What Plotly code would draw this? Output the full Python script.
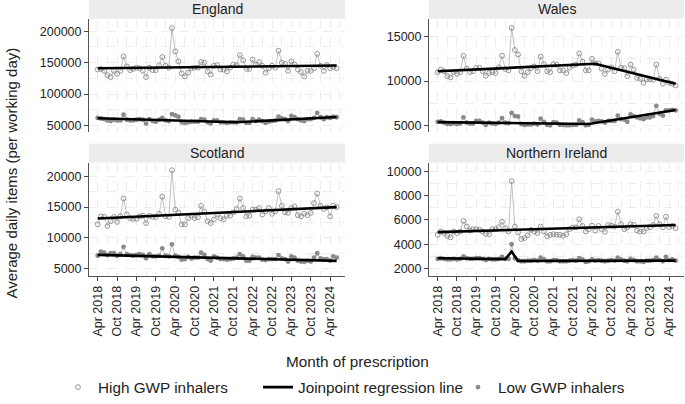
import pandas as pd
import plotly.graph_objects as go

months = pd.date_range("2018-04-01", "2024-06-01", freq="MS")

eng_high = [139000,140000,137000,130000,127000,137000,132000,137000,160000,144000,138000,140000,
            142000,141000,137000,127000,142000,138000,138000,146000,159000,145000,142000,205000,
            168000,152000,133000,128000,134000,141000,142000,142000,151000,150000,136000,131000,
            145000,146000,139000,139000,136000,142000,147000,146000,162000,154000,140000,140000,
            155000,147000,151000,145000,134000,141000,145000,142000,169000,150000,148000,137000,
            152000,147000,139000,135000,128000,137000,137000,141000,164000,145000,137000,146000,
            141000,143000,141000]
eng_low = [62000,61000,60000,58000,57000,59000,58000,58000,67000,59000,58000,58000,
           59000,60000,59000,53000,60000,57000,56000,59000,62000,58000,57000,68000,
           66000,64000,55000,54000,55000,56000,56000,56000,60000,59000,55000,53000,
           58000,58000,55000,55000,54000,55000,55000,55000,60000,59000,54000,54000,
           60000,57000,59000,57000,54000,56000,57000,58000,64000,61000,60000,57000,
           65000,63000,60000,58000,57000,60000,60000,62000,70000,63000,60000,63000,
           62000,64000,63000]
wal_high = [11000,11300,11100,10550,10400,11000,10800,11000,12850,11400,11000,11100,
            11500,11500,11100,10600,10900,11000,10900,11550,12850,11350,11200,16000,
            13500,13000,11100,10600,11000,11450,11650,11100,12750,11900,11100,11000,
            11900,11850,11200,11200,10900,11500,11750,11850,13100,12200,11200,11200,
            12500,12000,12000,11400,10800,11300,11550,11100,13300,11500,11450,10550,
            11850,11300,10350,10250,9800,10200,10200,10150,11850,10250,9700,10150,
            9800,9700,9500]
wal_low = [5400,5450,5300,5150,5150,5250,5150,5200,5900,5300,5200,5200,
           5500,5500,5300,5050,5300,5200,5150,5300,5800,5300,5250,6400,
           6050,6000,5150,5050,5100,5100,5200,5100,5750,5400,5050,5000,
           5350,5300,5050,5050,5000,5000,5050,5050,5550,5350,5000,5050,
           5650,5450,5500,5450,5300,5500,5500,5500,6100,5700,5650,5400,
           6250,6050,5900,5800,5700,5900,5900,6050,7200,6300,6100,6700,
           6700,6750,6700]
sco_high = [12200,13500,13400,11900,12700,13400,12600,13500,16400,13800,13200,13100,
            13100,13500,13600,12400,13600,13400,13400,13900,16700,13500,13400,21000,
            14600,14100,12200,12200,13200,13600,13200,13350,15200,14300,12700,12400,
            13000,13800,13200,13000,13600,13600,14150,14700,16400,14850,13500,13600,
            14600,14600,14850,13800,14300,14850,13900,14300,17600,15200,14150,14050,
            14850,15100,13700,13500,13950,13700,14050,15650,17200,15200,14700,14950,
            13500,15250,15000]
sco_low = [7100,7750,7600,7200,7500,7500,7100,7350,8550,7350,7200,7100,
           7250,7350,7250,6700,7350,7000,7000,7100,8300,7100,7000,8950,
           7100,6900,6450,6550,6900,6650,6800,6800,7600,7250,6550,6300,
           7000,6800,6550,6550,6450,6550,6650,6800,7350,7000,6300,6300,
           6900,6800,6800,6450,6400,6550,6550,6550,7200,6650,6550,6150,
           7000,6800,6300,6150,6100,6300,6150,6800,7500,6650,6550,6550,
           6300,7000,6800]
ni_high = [4780,5050,4920,4700,4560,5050,4920,5050,5920,5460,5130,5240,
           5240,5190,5050,4860,4830,5240,5240,5400,5860,5320,5050,9200,
           5460,4970,4430,4510,4730,5190,5050,4920,5460,5050,4650,4780,
           4830,4780,4780,4700,4830,5240,5380,5400,6050,5510,5050,5240,
           5540,5130,5510,5240,5020,5590,5540,5460,6680,5650,5240,5380,
           5650,5590,5130,5050,5050,5320,5400,5590,6330,5650,5400,6270,
           5400,5510,5320]
ni_low = [2800,2850,2800,2750,2750,2800,2750,2800,3000,2850,2800,2800,
          2850,2850,2800,2700,2800,2750,2750,2800,2950,2800,2800,4000,
          2850,2700,2600,2600,2650,2650,2700,2650,2900,2750,2600,2600,
          2700,2700,2600,2600,2600,2650,2700,2650,2850,2750,2550,2600,
          2750,2650,2700,2650,2600,2650,2700,2650,2900,2750,2650,2600,
          2800,2700,2600,2600,2550,2650,2650,2700,2900,2700,2600,2950,
          2700,2750,2650]

# joinpoint regression segments: (month index, fitted value)
eng_high_jp = ([0, 74], [141000, 145500])
eng_low_jp = ([0, 43, 74], [61500, 55000, 63500])
wal_high_jp = ([0, 49, 74], [11100, 11950, 9700])
wal_low_jp = ([0, 47, 74], [5370, 5150, 6740])
sco_high_jp = ([0, 74], [13150, 15000])
sco_low_jp = ([0, 74], [7230, 6270])
ni_high_jp = ([0, 74], [5000, 5590])
ni_low_jp = ([0, 21, 23, 25, 74], [2850, 2780, 3400, 2620, 2650])

panels = [
    ("England", eng_high, eng_low, eng_high_jp, eng_low_jp, [39500, 220000], 50000),
    ("Wales", wal_high, wal_low, wal_high_jp, wal_low_jp, [4250, 17030], 5000),
    ("Scotland", sco_high, sco_low, sco_high_jp, sco_low_jp, [3830, 22240], 5000),
    ("Northern Ireland", ni_high, ni_low, ni_high_jp, ni_low_jp, [1400, 10730], 2000),
]

W, H = 685, 404
xdoms = [[89 / W, 345 / W], [429 / W, 684 / W]]
ydoms = [[1 - 134 / H, 1 - 19 / H], [1 - 280 / H, 1 - 165 / H]]
strip_h = 19 / H

FONT = "Arial, Liberation Sans, sans-serif"
GRID = "#ededed"
GREY = "#8a8a8a"

fig = go.Figure()
layout = {}
for i, (name, hi, lo, hjp, ljp, yr, dt) in enumerate(panels):
    r, c = divmod(i, 2)
    n = i + 1
    xa = "x" if n == 1 else f"x{n}"
    ya = "y" if n == 1 else f"y{n}"
    fig.add_trace(go.Scatter(x=months, y=hi, mode="lines+markers", xaxis=xa, yaxis=ya,
                             line=dict(color="#a8a8a8", width=0.7),
                             marker=dict(symbol="circle-open", size=4.8, color=GREY,
                                         line=dict(width=0.9, color=GREY)),
                             showlegend=False, hoverinfo="skip"))
    fig.add_trace(go.Scatter(x=months, y=lo, mode="lines+markers", xaxis=xa, yaxis=ya,
                             line=dict(color="#a8a8a8", width=0.7),
                             marker=dict(symbol="circle", size=4.8, color=GREY),
                             showlegend=False, hoverinfo="skip"))
    for jp in (hjp, ljp):
        fig.add_trace(go.Scatter(x=[months[k] for k in jp[0]], y=jp[1], mode="lines",
                                 xaxis=xa, yaxis=ya, line=dict(color="black", width=2.6),
                                 showlegend=False, hoverinfo="skip"))
    bottom = r == 1
    key = "" if n == 1 else str(n)
    layout["xaxis" + key] = dict(
        domain=xdoms[c], anchor=ya, type="date",
        range=["2018-01-09", "2024-08-19"],
        tick0="2018-04-01", dtick="M6", tickformat="%b %Y", tickangle=-90,
        showticklabels=bottom, ticks="outside" if bottom else "", ticklen=4,
        tickcolor="#444", tickfont=dict(size=12.5, color="#222", family=FONT),
        showline=bottom, linecolor="#555", linewidth=1,
        showgrid=True, gridcolor=GRID, griddash="dash", gridwidth=1,
        minor=dict(dtick="M3", showgrid=True, gridcolor=GRID, griddash="dash", gridwidth=1),
        zeroline=False, fixedrange=True,
    )
    layout["yaxis" + key] = dict(
        domain=ydoms[r], anchor=xa, range=yr, dtick=dt, tick0=0, tickformat="d",
        ticks="outside", ticklen=4, tickcolor="#444",
        tickfont=dict(size=12.5, color="#222", family=FONT),
        showline=True, linecolor="#555", linewidth=1,
        showgrid=True, gridcolor=GRID, griddash="dash", gridwidth=1,
        minor=dict(dtick=dt / 2, showgrid=True, gridcolor=GRID, griddash="dash", gridwidth=1),
        zeroline=False, fixedrange=True,
    )

shapes = []
annotations = []
for i, (name, *_rest) in enumerate(panels):
    r, c = divmod(i, 2)
    y0 = ydoms[r][1]
    shapes.append(dict(type="rect", xref="paper", yref="paper", x0=xdoms[c][0], x1=xdoms[c][1],
                       y0=y0, y1=y0 + strip_h, fillcolor="#ececec", line=dict(width=0), layer="below"))
    annotations.append(dict(text=name, xref="paper", yref="paper", x=(xdoms[c][0] + xdoms[c][1]) / 2,
                            y=y0 + strip_h / 2, showarrow=False, xanchor="center", yanchor="middle",
                            font=dict(size=14, color="#222", family=FONT)))

annotations.append(dict(text="Month of prescription", xref="paper", yref="paper", x=357 / W,
                        y=1 - 367 / H, showarrow=False, xanchor="center", yanchor="middle",
                        font=dict(size=15.3, color="#222", family=FONT)))
annotations.append(dict(text="Average daily items (per working day)", xref="paper", yref="paper",
                        x=11 / W, y=1 - 176 / H, showarrow=False, textangle=-90,
                        xanchor="center", yanchor="middle",
                        font=dict(size=15, color="#222", family=FONT)))

# legend entries
fig.add_trace(go.Scatter(x=[None], y=[None], mode="markers", name="High GWP inhalers",
                         marker=dict(symbol="circle-open", size=4.8, color=GREY, line=dict(width=0.9, color=GREY))))
fig.add_trace(go.Scatter(x=[None], y=[None], mode="lines", name="Joinpoint regression line",
                         line=dict(color="black", width=2.6)))
fig.add_trace(go.Scatter(x=[None], y=[None], mode="markers", name="Low GWP inhalers",
                         marker=dict(symbol="circle", size=4.8, color=GREY)))

fig.update_layout(
    width=W, height=H, margin=dict(l=0, r=0, t=0, b=0),
    paper_bgcolor="white", plot_bgcolor="white",
    font=dict(family=FONT, color="#222"),
    shapes=shapes, annotations=annotations,
    legend=dict(orientation="h", x=58 / W, xanchor="left", y=1 - 393 / H, yanchor="middle",
                font=dict(size=15.3, color="#222", family=FONT), itemwidth=30,
                entrywidth=155, entrywidthmode="pixels",
                tracegroupgap=0, bgcolor="rgba(0,0,0,0)"),
    **layout,
)

fig.write_html("out.html", config={"displayModeBar": False},
               post_script="document.body.style.margin='0';document.body.style.padding='0';")
